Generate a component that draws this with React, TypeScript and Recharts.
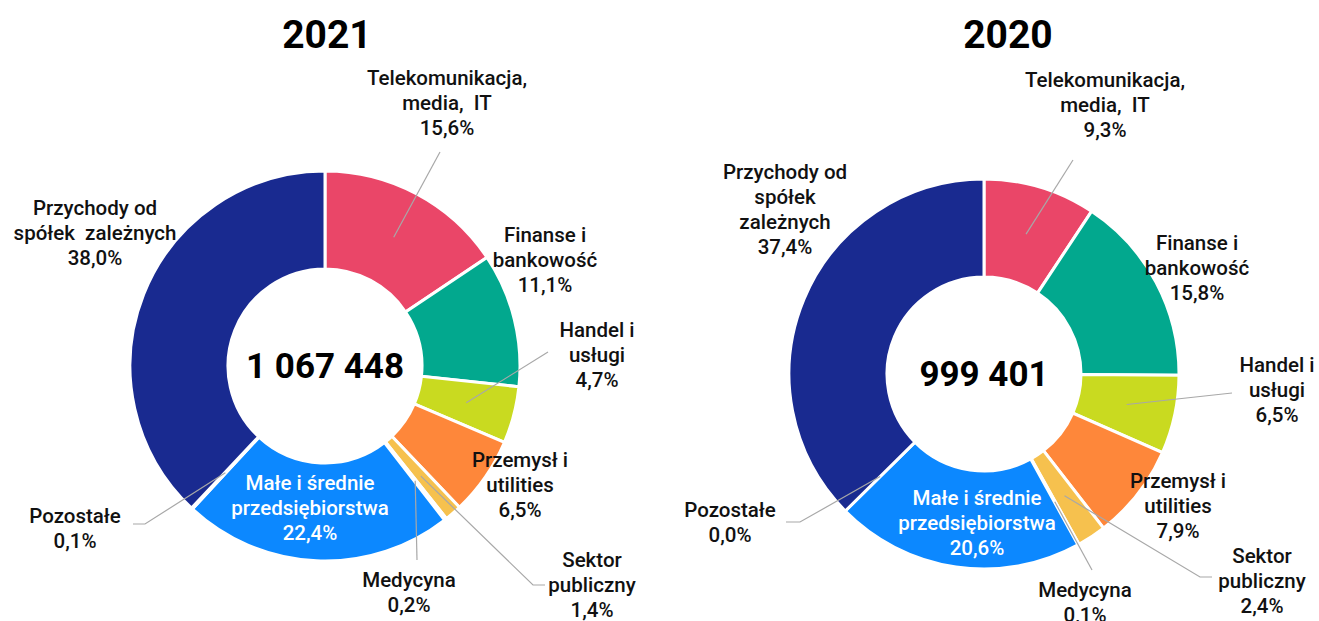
import React from 'react';
import { PieChart, Pie, Cell } from 'recharts';

const categories = [
  'Telekomunikacja, media, IT',
  'Finanse i bankowość',
  'Handel i usługi',
  'Przemysł i utilities',
  'Sektor publiczny',
  'Medycyna',
  'Małe i średnie przedsiębiorstwa',
  'Pozostałe',
  'Przychody od spółek zależnych',
];
const values2021 = [15.6, 11.1, 4.7, 6.5, 1.4, 0.2, 22.4, 0.1, 38.0];
const values2020 = [9.3, 15.8, 6.5, 7.9, 2.4, 0.1, 20.6, 0.0, 37.4];
const years = ['2021', '2020'];
const totals = ['1 067 448', '999 401'];

const labelLines2021 = [
  ['Telekomunikacja,', 'media,  IT'],
  ['Finanse i', 'bankowość'],
  ['Handel i', 'usługi'],
  ['Przemysł i', 'utilities'],
  ['Sektor', 'publiczny'],
  ['Medycyna'],
  ['Małe i średnie', 'przedsiębiorstwa'],
  ['Pozostałe'],
  ['Przychody od', 'spółek  zależnych'],
];
const labelLines2020 = [
  ['Telekomunikacja,', 'media,  IT'],
  ['Finanse i', 'bankowość'],
  ['Handel i', 'usługi'],
  ['Przemysł i', 'utilities'],
  ['Sektor', 'publiczny'],
  ['Medycyna'],
  ['Małe i średnie', 'przedsiębiorstwa'],
  ['Pozostałe'],
  ['Przychody od', 'spółek', 'zależnych'],
];

const colors = ['#EA4668', '#02A88E', '#C9DA20', '#FE873A', '#F6C14E', '#9A9A9A', '#0C88FF', '#8C8C8C', '#192A90'];

type LabelLayout = { dx: number; dy: number; white?: boolean; leader?: number[][] };

// label placement relative to the pie centre (layout only)
const layout2021: LabelLayout[] = [
  { dx: 122, dy: -288, leader: [[115, -214]] },
  { dx: 220, dy: -131 },
  { dx: 272, dy: -36, leader: [[223, -14]] },
  { dx: 195, dy: 94 },
  { dx: 267, dy: 194, leader: [[208, 219], [220, 219]] },
  { dx: 84, dy: 214, leader: [[92, 194]] },
  { dx: -15, dy: 117, white: true },
  { dx: -250, dy: 150, leader: [[-180, 158], [-192, 158]] },
  { dx: -230, dy: -158 },
];
const layout2020: LabelLayout[] = [
  { dx: 121, dy: -294, leader: [[89, -214]] },
  { dx: 213, dy: -131 },
  { dx: 293, dy: -9, leader: [[248, 19]] },
  { dx: 194, dy: 107 },
  { dx: 278, dy: 182, leader: [[216, 203], [228, 203]] },
  { dx: 101, dy: 216, leader: [[108, 196]] },
  { dx: -7, dy: 124, white: true },
  { dx: -254, dy: 136, leader: [[-184, 148], [-198, 148]] },
  { dx: -199, dy: -202 },
];

const FONT = 'Roboto, "Noto Sans", sans-serif';
const LINE_H = 25;
const FS = 20.5;

const fmt = (v: number) => v.toFixed(1).replace('.', ',') + '%';

function makeLabel(layout: LabelLayout[], lines: string[][], total: string) {
  return (p: any) => {
    const { cx, cy, midAngle, innerRadius, outerRadius, index, value } = p;
    const L = layout[index];
    if (!L) return null;
    const RAD = Math.PI / 180;
    const rm = (innerRadius + outerRadius) / 2;
    const sx = cx + rm * Math.cos(-midAngle * RAD);
    const sy = cy + rm * Math.sin(-midAngle * RAD);
    const all = [...lines[index], fmt(value)];
    const tx = cx + L.dx;
    const ty = cy + L.dy + 7;
    let pts = '';
    if (L.leader) {
      pts = [[sx, sy], ...L.leader.map(([x, y]) => [cx + x, cy + y])].map((a) => a.join(',')).join(' ');
    }
    return (
      <g key={`lbl-${index}`}>
        {index === 0 && (
          <text x={cx} y={cy + 12} textAnchor="middle" fill="#000" fontSize={35} fontWeight={700} fontFamily={FONT}>
            {total}
          </text>
        )}
        {L.leader && <polyline points={pts} fill="none" stroke="#A8A8A8" strokeWidth={1.2} />}
        <text
          x={tx}
          y={ty}
          textAnchor="middle"
          fill={L.white ? '#FFFFFF' : '#111111'}
          fontSize={FS}
          fontWeight={500}
          fontFamily={FONT}
        >
          {all.map((t, i) => (
            <tspan key={i} x={tx} dy={i === 0 ? 0 : LINE_H} style={{ whiteSpace: 'pre' }}>
              {t}
            </tspan>
          ))}
        </text>
      </g>
    );
  };
}

const data2021 = categories.map((name, i) => ({ name, value: values2021[i] }));
const data2020 = categories.map((name, i) => ({ name, value: values2020[i] }));

const titleStyle: React.CSSProperties = {
  position: 'absolute',
  width: 200,
  top: 11,
  textAlign: 'center',
  fontSize: 39,
  fontWeight: 700,
  color: '#000',
  lineHeight: '48px',
};

export default function App() {
  return (
    <div style={{ position: 'relative', width: 1319, height: 621, background: '#fff', fontFamily: FONT }}>
      <style>{`body{margin:0;background:#fff}`}</style>
      <div style={{ ...titleStyle, left: 227 }}>{years[0]}</div>
      <div style={{ ...titleStyle, left: 908 }}>{years[1]}</div>
      <PieChart
        width={1319}
        height={621}
        margin={{ top: 0, right: 0, bottom: 0, left: 0 }}
        style={{ position: 'absolute', left: 0, top: 0 }}
      >
        <Pie
          data={data2021}
          dataKey="value"
          nameKey="name"
          cx={325}
          cy={366}
          innerRadius={97}
          outerRadius={195}
          startAngle={90}
          endAngle={-270}
          stroke="#FFFFFF"
          strokeWidth={3}
          isAnimationActive={false}
          labelLine={false}
          label={makeLabel(layout2021, labelLines2021, totals[0])}
        >
          {data2021.map((d, i) => (
            <Cell key={d.name} fill={colors[i]} />
          ))}
        </Pie>
        <Pie
          data={data2020}
          dataKey="value"
          nameKey="name"
          cx={984}
          cy={374}
          innerRadius={97}
          outerRadius={195}
          startAngle={90}
          endAngle={-270}
          stroke="#FFFFFF"
          strokeWidth={3}
          isAnimationActive={false}
          labelLine={false}
          label={makeLabel(layout2020, labelLines2020, totals[1])}
        >
          {data2020.map((d, i) => (
            <Cell key={d.name} fill={colors[i]} />
          ))}
        </Pie>
      </PieChart>
    </div>
  );
}
